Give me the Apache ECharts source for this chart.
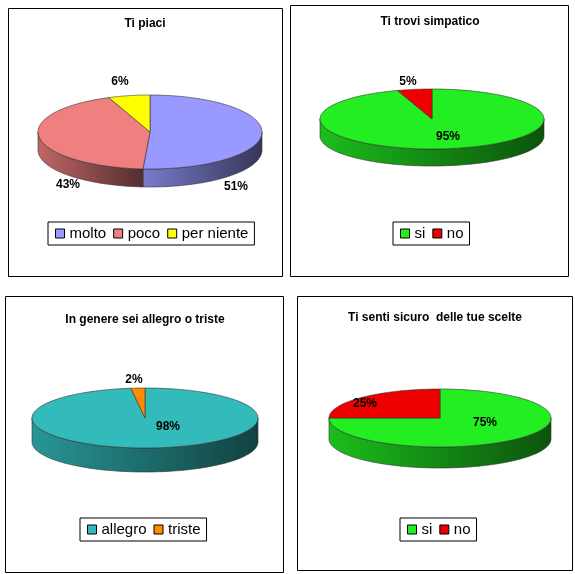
<!DOCTYPE html>
<html><head><meta charset="utf-8">
<script src="https://cdn.jsdelivr.net/npm/echarts@6/dist/echarts.min.js"></script>
<style>html,body{margin:0;background:#fff}#main{width:575px;height:574px}</style>
</head><body><div id="main"></div>
<script>
// data
const titles = ['Ti piaci', 'Ti trovi simpatico', 'In genere sei allegro o triste', 'Ti senti sicuro  delle tue scelte'];
const cats1 = ['molto', 'poco', 'per niente'];
const vals1 = [51, 43, 6];
const cats2 = ['si', 'no'];
const vals2 = [95, 5];
const cats3 = ['allegro', 'triste'];
const vals3 = [98, 2];
const cats4 = ['si', 'no'];
const vals4 = [75, 25];

const charts = [
  { cats: cats1, vals: vals1, colors: ['#9999ff', '#f08080', '#ffff00'],
    box: [8, 8, 274, 268], cx: 150, cy: 132, rx: 112, ry: 37, d: 18, title: [145, 24],
    labels: [[236, 187], [68, 185], [120, 82]], legend: [48, 222] },
  { cats: cats2, vals: vals2, colors: ['#22ee22', '#ee0000'],
    box: [290, 5, 278, 271], cx: 432, cy: 119, rx: 112, ry: 30, d: 17, title: [430, 22],
    labels: [[448, 137], [408, 82]], legend: [393, 222] },
  { cats: cats3, vals: vals3, colors: ['#33bbbb', '#ff8c00'],
    box: [5, 296, 278, 276], cx: 145, cy: 418, rx: 113, ry: 30, d: 24, title: [145, 320],
    labels: [[168, 427], [134, 380]], legend: [80, 518] },
  { cats: cats4, vals: vals4, colors: ['#22ee22', '#ee0000'],
    box: [297, 296, 275, 274], cx: 440, cy: 418, rx: 111, ry: 29, d: 21, title: [435, 318],
    labels: [[485, 423], [365, 404]], legend: [400, 518] }
];

function shade(hex, f) {
  const n = parseInt(hex.slice(1), 16);
  const c = [n >> 16, (n >> 8) & 255, n & 255].map(v => Math.round(v * f));
  return 'rgb(' + c.join(',') + ')';
}

const series = [], legends = [], graphics = [];
charts.forEach((c, ci) => {
  graphics.push({ type: 'rect', shape: { x: c.box[0] + 0.5, y: c.box[1] + 0.5, width: c.box[2], height: c.box[3] },
    style: { fill: 'none', stroke: '#000', lineWidth: 1 }, z: 0 });
  graphics.push({ type: 'text', x: c.title[0], y: c.title[1],
    style: { text: titles[ci], font: 'bold 12px Arial, Liberation Sans', fill: '#000', align: 'center', verticalAlign: 'middle' } });
  const total = c.vals.reduce((a, b) => a + b, 0);
  let acc = 0;
  const names = c.cats.map(n => n + '#' + ci);
  c.vals.forEach((v, i) => {
    const t0 = acc / total * 2 * Math.PI; acc += v;
    const t1 = acc / total * 2 * Math.PI;
    const color = c.colors[i];
    const pt = (t, dy) => [c.cx + c.rx * Math.sin(t), c.cy - c.ry * Math.cos(t) + (dy || 0)];
    series.push({
      type: 'custom', name: names[i], coordinateSystem: 'none', data: [[v]],
      itemStyle: { color: color }, z: 2,
      renderItem: function (params, api) {
        const val = api.value(0);
        const children = [];
        const N = 80;
        // side wall: front part (pi/2..3pi/2)
        const a = Math.max(t0, Math.PI / 2), b = Math.min(t1, 3 * Math.PI / 2);
        if (b > a) {
          const top = [], bot = [];
          for (let k = 0; k <= N; k++) { const t = a + (b - a) * k / N; top.push(pt(t)); bot.push(pt(t, c.d)); }
          children.push({ type: 'polygon', shape: { points: top.concat(bot.reverse()) },
            style: { fill: new echarts.graphic.LinearGradient(0, 0, 1, 0, [
              { offset: 0, color: shade(color, 0.8) }, { offset: 1, color: shade(color, 0.35) }]),
              stroke: '#333', lineWidth: 0.6 } });
        }
        const pts = [[c.cx, c.cy]];
        for (let k = 0; k <= N; k++) pts.push(pt(t0 + (t1 - t0) * k / N));
        children.push({ type: 'polygon', shape: { points: pts }, style: { fill: color, stroke: '#333', lineWidth: 0.6 } });
        children.push({ type: 'text', x: c.labels[i][0], y: c.labels[i][1], z2: 10,
          style: { text: Math.round(val / total * 100) + '%', font: 'bold 12px Arial, Liberation Sans', fill: '#000', align: 'center', verticalAlign: 'middle' } });
        return { type: 'group', children: children };
      }
    });
  });
  legends.push({
    data: names, left: c.legend[0], top: c.legend[1], orient: 'horizontal',
    borderColor: '#000', borderWidth: 1, padding: [4, 6, 4, 7], itemGap: 7,
    icon: 'rect', itemWidth: 9, itemHeight: 9, selectedMode: false,
    itemStyle: { borderColor: '#000', borderWidth: 1 },
    formatter: n => n.split('#')[0],
    textStyle: { fontFamily: 'Arial, Liberation Sans', fontSize: 15, color: '#000', padding: [0, 0, 0, 0] }
  });
});

const chart = echarts.init(document.getElementById('main'), null, { renderer: 'canvas' });
chart.setOption({ animation: false, legend: legends, series: series, graphic: graphics });
</script></body></html>
